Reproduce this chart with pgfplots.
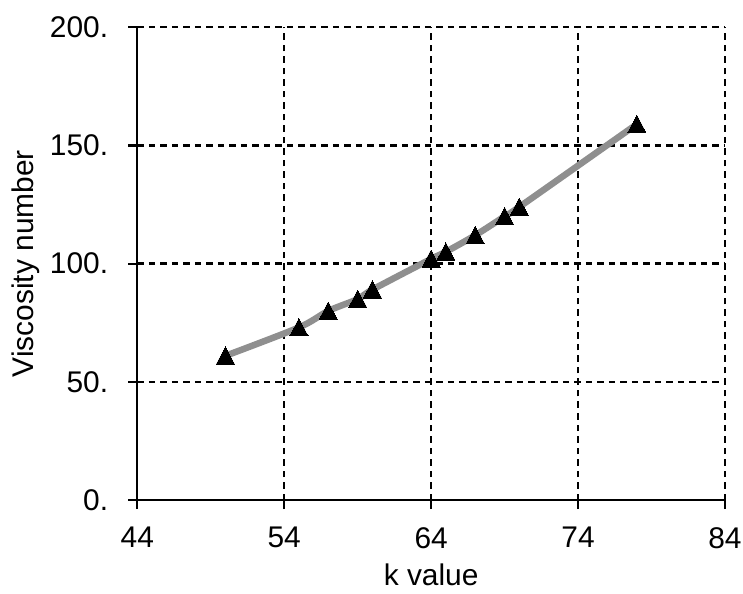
\documentclass[border=0pt]{standalone}
\usepackage{fontspec}
\setmainfont{Liberation Sans}
\usepackage{pgfplots}
\pgfplotsset{compat=1.18}
\definecolor{linegray}{HTML}{8F8F8F}

\begin{document}
\begin{tikzpicture}
\useasboundingbox (-137.3bp,-94bp) rectangle (605.7bp,500bp);
\begin{axis}[scale only axis,width=587.7bp,height=472.7bp,
  xmin=44,xmax=84,ymin=0,ymax=200,
  xtick={44,54,64,74,84},ytick={0,50,100,150,200},
  axis x line=bottom,axis y line=left,axis line style={-,line width=2.3bp,black},
  tick align=outside,major tick length=9bp,tick style={line width=2.2bp,black},
  xmajorgrids=true,ymajorgrids=true,
  grid style={black,line width=2.4bp,dash pattern=on 6.5bp off 5bp},
  font=\fontsize{30}{34}\selectfont,
  xticklabel={\pgfmathprintnumber[assume math mode=true]{\tick}},
  yticklabel={\pgfmathprintnumber[assume math mode=true]{\tick}.},
  xticklabel style={anchor=north,inner sep=0pt},
  yticklabel style={anchor=east,inner sep=0pt},
  xticklabel shift=18bp,yticklabel shift=20bp,
  xlabel={k value},ylabel={Viscosity number},
  xlabel style={at={(axis description cs:0.5,-0.1587)},anchor=center},
  ylabel style={at={(axis description cs:-0.1906,0.5)},anchor=center,rotate=0},
  clip=false]
\addplot[linegray,line width=6.5bp,smooth,mark=triangle*,mark size=10.5bp,
  mark options={black,solid,line width=0pt,yscale=1.1,yshift=-2.4bp}] coordinates {
  (50,61) (55,73) (57,80) (59,85) (60,89) (64,102) (65,105) (67,112) (69,120) (70,124) (78,159)};
\end{axis}
\end{tikzpicture}
\end{document}
